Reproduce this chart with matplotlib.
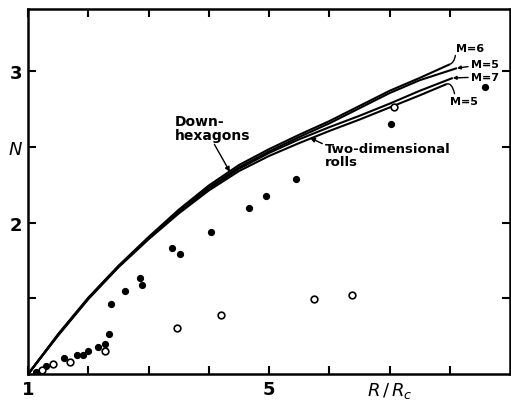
import numpy as np
import matplotlib.pyplot as plt

# curves (R/Rc, N)
hex_x = [1.0, 1.5, 2.0, 2.5, 3.0, 3.5, 4.0, 4.5, 5.0, 5.5, 6.0, 6.5, 7.0, 7.5, 8.0]
hex6_y = [1.0, 1.265, 1.505, 1.715, 1.905, 2.085, 2.245, 2.38, 2.485, 2.58, 2.67, 2.77, 2.87, 2.955, 3.045]
hex5_x = [1.0, 1.5, 2.0, 2.5, 3.0, 3.5, 4.0, 4.5, 5.0, 5.5, 6.0, 6.5, 7.0, 7.5, 8.12]
hex5_y = [1.0, 1.26, 1.50, 1.71, 1.895, 2.075, 2.232, 2.365, 2.47, 2.565, 2.655, 2.755, 2.855, 2.94, 3.02]
roll7_x = [1.0, 1.5, 2.0, 2.5, 3.0, 3.5, 4.0, 4.5, 5.0, 5.5, 6.0, 6.5, 7.0, 7.5, 8.05]
roll7_y = [1.0, 1.26, 1.50, 1.71, 1.895, 2.07, 2.225, 2.355, 2.46, 2.55, 2.63, 2.705, 2.785, 2.87, 2.955]
roll5_x = [1.0, 1.5, 2.0, 2.5, 3.0, 3.5, 4.0, 4.5, 5.0, 5.5, 6.0, 6.5, 7.0, 7.5, 7.95]
roll5_y = [1.0, 1.255, 1.495, 1.705, 1.89, 2.06, 2.212, 2.34, 2.44, 2.525, 2.605, 2.68, 2.76, 2.84, 2.915]

# measured points
filled_x = [1.13, 1.30, 1.60, 1.81, 1.91, 2.00, 2.16, 2.28, 2.34, 2.38, 2.61, 2.86, 2.89,
            3.39, 3.52, 4.03, 4.66, 4.95, 5.44, 7.02, 8.58]
filled_y = [1.013, 1.053, 1.106, 1.125, 1.125, 1.152, 1.178, 1.198, 1.264, 1.462, 1.548, 1.634, 1.587,
            1.832, 1.792, 1.937, 2.096, 2.175, 2.287, 2.650, 2.894]
open_x = [1.23, 1.41, 1.70, 2.28, 3.47, 4.20, 5.74, 6.37, 7.07]
open_y = [1.026, 1.066, 1.079, 1.152, 1.304, 1.389, 1.495, 1.521, 2.762]

x_ticks = [1, 2, 3, 4, 5, 6, 7, 8]
x_labels = ['1', '', '', '', '5', '', r'$R\,/\,R_c$', '']
y_ticks = [1.5, 2, 2.5, 3]
y_labels = ['', '2', r'$N$', '3']

fig = plt.figure(figsize=(5.11, 4.02), dpi=100)
ax = fig.add_axes([0.055, 0.067, 0.943, 0.908])

for xs, ys in [(hex_x, hex6_y), (hex5_x, hex5_y), (roll7_x, roll7_y), (roll5_x, roll5_y)]:
    ax.plot(xs, ys, color='black', lw=1.5, solid_capstyle='butt')

ax.plot(filled_x, filled_y, 'o', color='black', ms=4.2, ls='none')
ax.plot(open_x, open_y, 'o', mfc='white', mec='black', mew=1.2, ms=4.8, ls='none')

ax.set_xlim(1, 9)
ax.set_ylim(1, 3.41)
ax.set_xticks(x_ticks)
ax.set_xticklabels(x_labels, fontsize=13, fontweight='bold')
ax.set_yticks(y_ticks)
ax.set_yticklabels(y_labels, fontsize=13, fontweight='bold')
ax.tick_params(direction='in', length=6, width=1.5, top=True, right=True, pad=4)
for s in ax.spines.values():
    s.set_linewidth(1.8)

arr = dict(arrowstyle='-|>', color='black', lw=1.0, mutation_scale=7, shrinkA=0, shrinkB=0)
ax.annotate('Down-\nhexagons', xy=(4.35, 2.335), xytext=(3.44, 2.72),
            fontsize=10, fontweight='bold', va='top', ha='left', linespacing=1.0, arrowprops=dict(arr, relpos=(0.5, 0.0)))
ax.annotate('Two-dimensional\nrolls', xy=(5.68, 2.56), xytext=(5.93, 2.53),
            fontsize=9.5, fontweight='bold', va='top', ha='left', linespacing=1.0, arrowprops=dict(arr, relpos=(0.0, 0.9)))

hook = dict(arrowstyle='-', color='black', lw=1.0, shrinkA=0, shrinkB=0)
ax.annotate('M=6', xy=(8.0, 3.045), xytext=(8.1, 3.155), fontsize=8, fontweight='bold',
            ha='left', va='center', arrowprops=dict(hook, connectionstyle='angle3,angleA=90,angleB=20', relpos=(0.0, 0.3)))
ax.annotate('M=5', xy=(8.12, 3.02), xytext=(8.35, 3.045), fontsize=8, fontweight='bold',
            ha='left', va='center', arrowprops=dict(arr, mutation_scale=5))
ax.annotate('M=7', xy=(8.05, 2.955), xytext=(8.35, 2.962), fontsize=8, fontweight='bold',
            ha='left', va='center', arrowprops=dict(arr, mutation_scale=5))
ax.annotate('M=5', xy=(7.95, 2.915), xytext=(8.0, 2.80), fontsize=8, fontweight='bold',
            ha='left', va='center', arrowprops=dict(hook, connectionstyle='angle3,angleA=-80,angleB=20', relpos=(0.2, 0.9)))

fig.savefig('out.png', dpi=100)
